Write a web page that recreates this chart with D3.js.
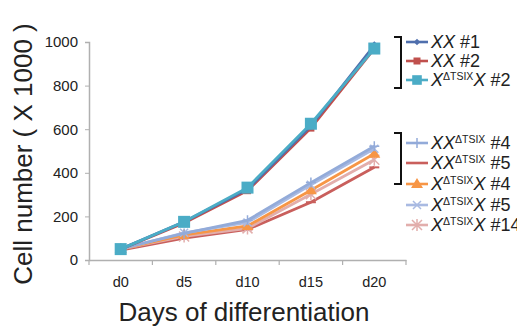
<!DOCTYPE html>
<html>
<head>
<meta charset="utf-8">
<script src="https://cdn.jsdelivr.net/npm/d3@7"></script>
<style>
  body { margin: 0; background: #fff; }
  text { font-family: "Liberation Sans", Arial, sans-serif; fill: #222; }
</style>
</head>
<body>
<svg id="chart" width="517" height="329"></svg>
<script>
const days = ["d0", "d5", "d10", "d15", "d20"];
const yTicks = [0, 200, 400, 600, 800, 1000];

const seriesNames = ["XX #1", "XX #2", "XdX #2", "XXd #4", "XXd #5", "XdX #4", "XdX #5", "XdX #14"];
const seriesColors = ["#4f6fad", "#c0504d", "#4bacc6", "#93abd9", "#c95f5c", "#f79646", "#a9bae2", "#e2aeac"];
const seriesMarkers = ["diamond", "square", "bigsquare", "plus", "dash", "triangle", "cross", "star"];

const xx1 = [50, 175, 325, 615, 985];
const xx2 = [50, 170, 318, 605, 970];
const xdx2 = [50, 175, 332, 625, 970];
const xxd4 = [52, 122, 182, 355, 522];
const xxd5 = [45, 100, 140, 265, 425];
const xdx4 = [50, 115, 156, 320, 487];
const xdx5 = [50, 125, 172, 345, 510];
const xdx14 = [50, 108, 145, 302, 460];

// draw order: lower group first, upper group on top
const allValues = [xx1, xx2, xdx2, xxd4, xxd5, xdx4, xdx5, xdx14];
const drawOrder = [4, 7, 5, 6, 3, 1, 0, 2];

// legend label pieces: [text, kind] kind: i = italic, s = superscript, n = normal
const labelParts = [
    [["XX", "i"], [" #1", "n"]],
    [["XX", "i"], [" #2", "n"]],
    [["X", "i"], ["ΔTSIX", "s"], ["X", "i"], [" #2", "n"]],
    [["XX", "i"], ["ΔTSIX", "s"], [" #4", "n"]],
    [["XX", "i"], ["ΔTSIX", "s"], [" #5", "n"]],
    [["X", "i"], ["ΔTSIX", "s"], ["X", "i"], [" #4", "n"]],
    [["X", "i"], ["ΔTSIX", "s"], ["X", "i"], [" #5", "n"]],
    [["X", "i"], ["ΔTSIX", "s"], ["X", "i"], [" #14", "n"]]
];

const svg = d3.select("#chart");
const mLeft = 89, mRight = 406, mTop = 42, mBottom = 260;

const x = d3.scaleBand().domain(days).range([mLeft, mRight]);
const y = d3.scaleLinear().domain([0, 1000]).range([mBottom, mTop]);

// axes
const gx = svg.append("g").attr("transform", `translate(0,${mBottom})`)
    .call(d3.axisBottom(x).tickSize(0).tickPadding(17));
gx.select(".domain").attr("stroke", "#b0b0b0").attr("stroke-width", 1.5);
gx.selectAll("text").attr("font-size", 14.5).attr("fill", "#222")
    .style("font-family", "Liberation Sans, Arial, sans-serif");
// ticks between categories
const bounds = days.map(d => x(d)).concat([mRight]);
gx.selectAll(".sep").data(bounds).enter().append("line")
    .attr("x1", d => d).attr("x2", d => d).attr("y1", 0).attr("y2", 5)
    .attr("stroke", "#b0b0b0").attr("stroke-width", 1.2);

const gy = svg.append("g").attr("transform", `translate(${mLeft},0)`)
    .call(d3.axisLeft(y).tickValues(yTicks).tickFormat(d3.format("d")).tickSize(4).tickPadding(7));
gy.select(".domain").attr("stroke", "#b0b0b0").attr("stroke-width", 1.5);
gy.selectAll(".tick line").attr("stroke", "#b0b0b0");
gy.selectAll("text").attr("font-size", 15).attr("fill", "#222")
    .style("font-family", "Liberation Sans, Arial, sans-serif");

// titles
svg.append("text").attr("x", 244).attr("y", 321).attr("text-anchor", "middle")
    .attr("font-size", 26).text("Days of differentiation");
svg.append("text").attr("transform", "translate(32,154) rotate(-90)")
    .attr("text-anchor", "middle").attr("font-size", 26).text("Cell number ( X 1000 )");

// markers
function drawMarker(g, kind, color, cx, cy, s) {
    s = s || 1;
    if (kind === "diamond") {
        g.append("path").attr("d", `M${cx},${cy - 4 * s}L${cx + 4 * s},${cy}L${cx},${cy + 4 * s}L${cx - 4 * s},${cy}Z`).attr("fill", color);
    } else if (kind === "square") {
        g.append("rect").attr("x", cx - 3.5).attr("y", cy - 3.5).attr("width", 7).attr("height", 7).attr("fill", color);
    } else if (kind === "bigsquare") {
        g.append("rect").attr("x", cx - 6 * s).attr("y", cy - 6 * s).attr("width", 12 * s).attr("height", 12 * s).attr("fill", color);
    } else if (kind === "plus") {
        g.append("path").attr("d", `M${cx - 5},${cy}H${cx + 5}M${cx},${cy - 5}V${cy + 5}`).attr("stroke", color).attr("stroke-width", 1.5);
    } else if (kind === "dash") {
        g.append("path").attr("d", `M${cx - 5},${cy}H${cx + 5}`).attr("stroke", color).attr("stroke-width", 2);
    } else if (kind === "triangle") {
        g.append("path").attr("d", `M${cx},${cy - 6}L${cx + 6},${cy + 4}L${cx - 6},${cy + 4}Z`).attr("fill", color);
    } else if (kind === "cross") {
        g.append("path").attr("d", `M${cx - 4},${cy - 4}L${cx + 4},${cy + 4}M${cx + 4},${cy - 4}L${cx - 4},${cy + 4}`).attr("stroke", color).attr("stroke-width", 1.5);
    } else if (kind === "star") {
        g.append("path").attr("d", `M${cx - 5},${cy - 5}L${cx + 5},${cy + 5}M${cx + 5},${cy - 5}L${cx - 5},${cy + 5}M${cx},${cy - 6}V${cy + 6}`).attr("stroke", color).attr("stroke-width", 1.5);
    }
}

const line = d3.line()
    .x((d, i) => x(days[i]) + x.bandwidth() / 2)
    .y(d => y(d));

drawOrder.forEach(k => {
    const g = svg.append("g");
    g.append("path").datum(allValues[k]).attr("d", line)
        .attr("fill", "none").attr("stroke", seriesColors[k]).attr("stroke-width", 2.8);
    allValues[k].forEach((v, i) => {
        drawMarker(g, seriesMarkers[k], seriesColors[k], x(days[i]) + x.bandwidth() / 2, y(v));
    });
});

// legend
const rowY = [42, 61, 80, 143, 163, 184, 205, 225];
const leg = svg.append("g");
seriesNames.forEach((name, k) => {
    const ly = rowY[k];
    leg.append("line").attr("x1", 406).attr("x2", 428).attr("y1", ly).attr("y2", ly)
        .attr("stroke", seriesColors[k]).attr("stroke-width", 2.6);
    drawMarker(leg, seriesMarkers[k], seriesColors[k], 417, ly, 0.8);
    const t = leg.append("text").attr("x", 431).attr("y", ly + 6).attr("font-size", 18);
    let prevSup = false;
    labelParts[k].forEach(p => {
        const ts = t.append("tspan").text(p[0]);
        if (p[1] === "i") ts.attr("font-style", "italic");
        if (p[1] === "s") ts.attr("font-size", 10.5).attr("dy", -6.5);
        else if (prevSup) ts.attr("dy", 6.5);
        prevSup = p[1] === "s";
    });
});

// brackets
function bracket(y1, y2) {
    svg.append("path").attr("d", `M394,${y1}H401V${y2}H394`)
        .attr("fill", "none").attr("stroke", "#111").attr("stroke-width", 2);
}
bracket(37, 88);
bracket(133, 184);
</script>
</body>
</html>
